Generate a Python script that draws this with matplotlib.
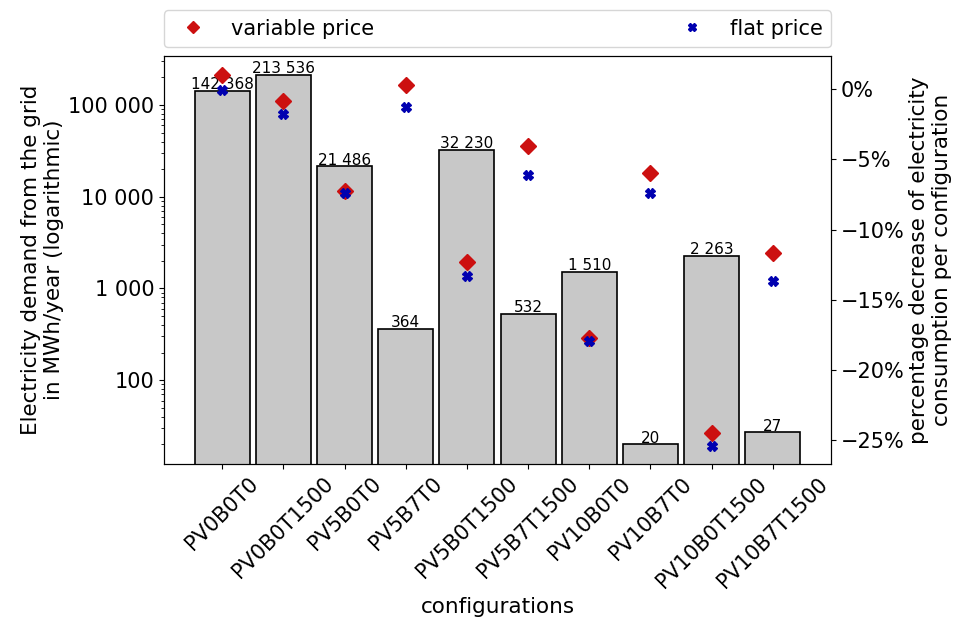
import matplotlib
matplotlib.use("Agg")
import matplotlib.pyplot as plt
from matplotlib.ticker import FuncFormatter, FixedLocator

configurations = ["PV0B0T0", "PV0B0T1500", "PV5B0T0", "PV5B7T0", "PV5B0T1500",
                  "PV5B7T1500", "PV10B0T0", "PV10B7T0", "PV10B0T1500", "PV10B7T1500"]
demand = [142368, 213536, 21486, 364, 32230, 532, 1510, 20, 2263, 27]
variable_price = [1.02, -0.88, -7.23, 0.31, -12.29, -4.04, -17.70, -5.94, -24.52, -11.65]
flat_price = [-0.05, -1.76, -7.41, -1.28, -13.31, -6.09, -17.92, -7.37, -25.42, -13.64]
left_ticks = [100, 1000, 10000, 100000]
right_ticks = [0, -5, -10, -15, -20, -25]

FS = 15
fig = plt.figure(figsize=(9.57, 6.23), dpi=100)
ax = fig.add_axes([0.1714, 0.2552, 0.6969, 0.6549])
x = list(range(len(configurations)))
bars = ax.bar(x, demand, width=0.9, color="#c8c8c8", edgecolor="black", linewidth=1.2)
ax.set_yscale("log")
ax.set_ylim(12.2, 342000)
ax.set_xlim(-0.95, 9.95)
ax.yaxis.set_major_locator(FixedLocator(left_ticks))
ax.yaxis.set_major_formatter(FuncFormatter(lambda v, p: f"{int(round(v)):,}".replace(",", " ")))
labels = [f"{v:,}".replace(",", " ") for v in demand]
ax.bar_label(bars, labels=labels, fontsize=11, padding=-1)
ax.set_xticks(x)
ax.set_xticklabels(configurations, rotation=45, fontsize=FS)
ax.tick_params(axis="y", labelsize=FS)
ax.set_ylabel("Electricity demand from the grid\nin MWh/year (logarithmic)", fontsize=15.5,
              labelpad=3)
ax.set_xlabel("configurations", fontsize=15.5)

ax2 = ax.twinx()
h1, = ax2.plot(x, variable_price, linestyle="none", marker="D", markersize=8,
               color="#cc1010", label="variable price")
h2, = ax2.plot(x, flat_price, linestyle="none", marker="X", markersize=7,
               color="#0000b0", label="flat price")
ax2.set_ylim(-26.7, 2.36)
ax2.set_yticks(right_ticks)
ax2.yaxis.set_major_formatter(FuncFormatter(lambda v, p: f"{int(round(v))}%".replace("-", "\u2212")))
ax2.tick_params(axis="y", labelsize=FS)
ax2.set_ylabel("percentage decrease of electricity\nconsumption per configuration", fontsize=15.5,
               labelpad=3)

ax2.legend(handles=[h1, h2], loc="lower left", bbox_to_anchor=(0, 1.022, 1, 0.1),
           mode="expand", ncol=2, fontsize=15, borderaxespad=0, markerscale=0.75)

fig.savefig("out.png", dpi=100)
